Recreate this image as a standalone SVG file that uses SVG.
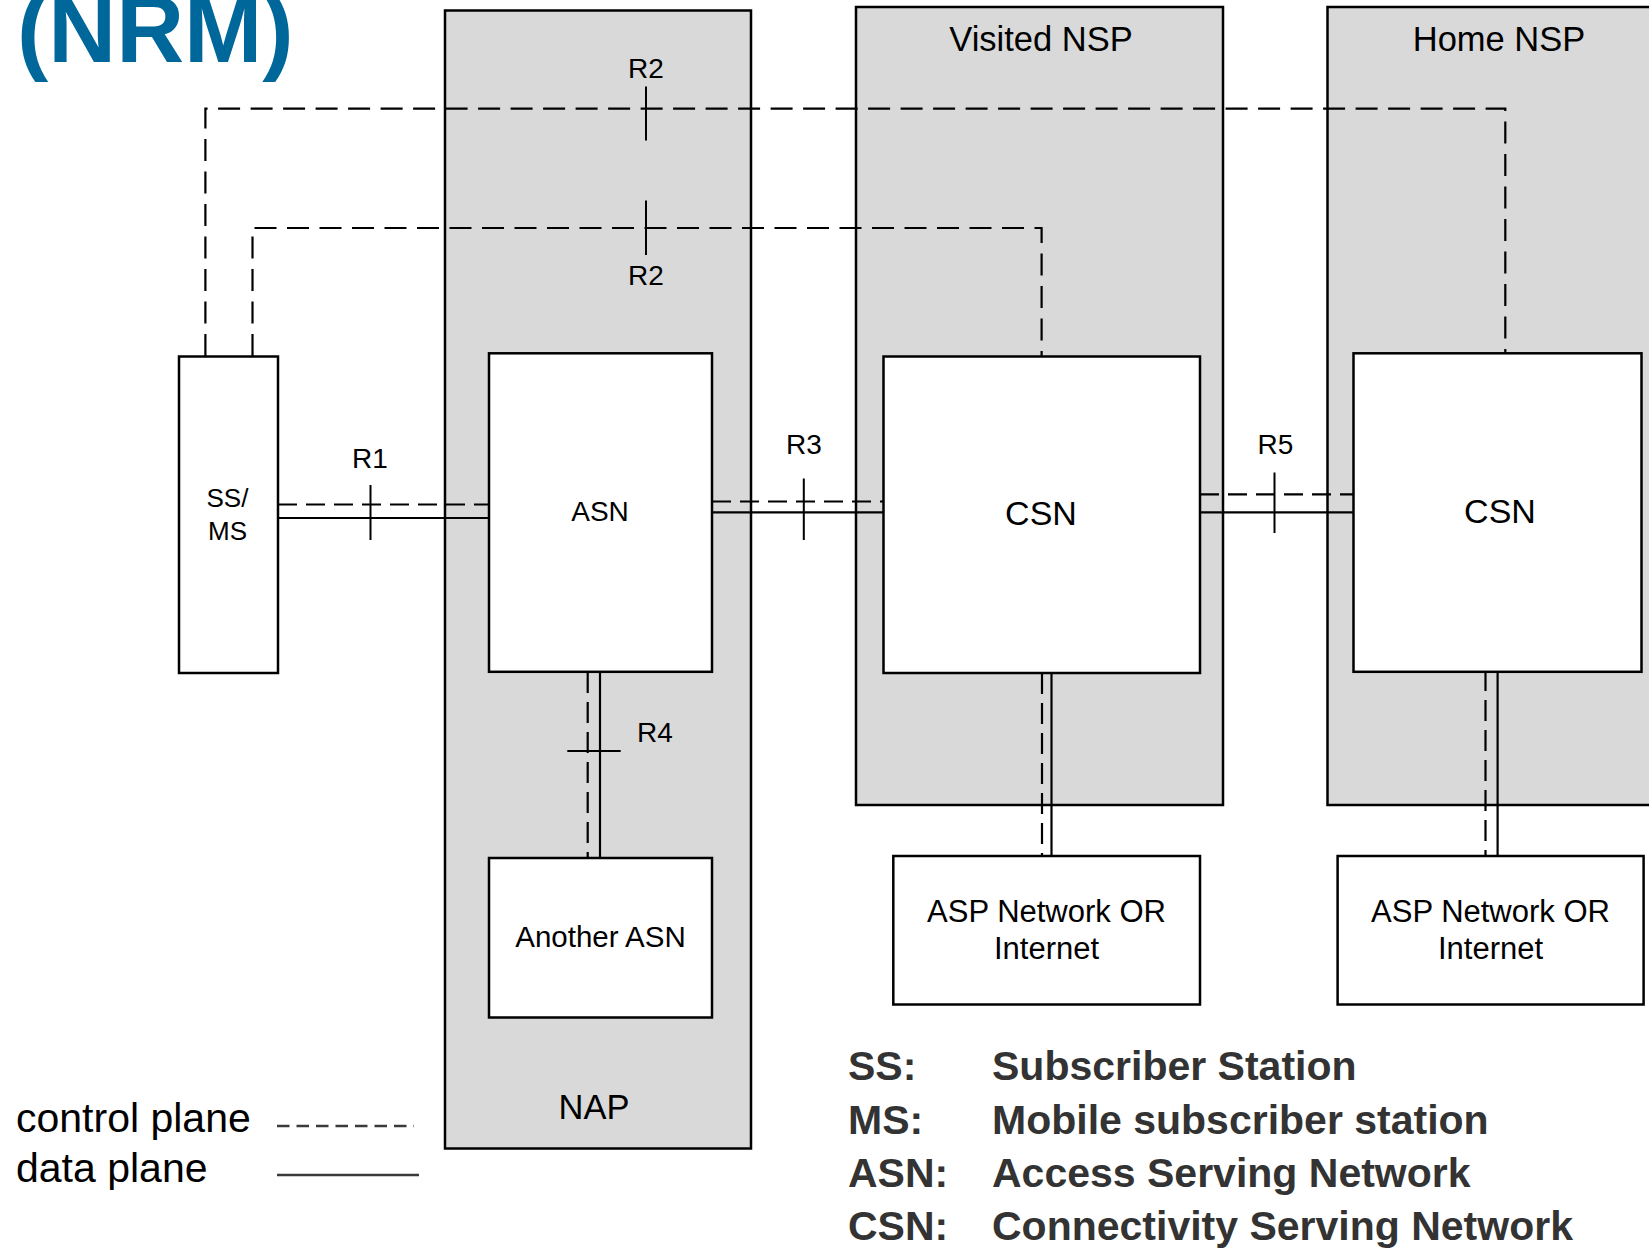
<svg xmlns="http://www.w3.org/2000/svg" width="1649" height="1249" viewBox="0 0 1649 1249">
<style>
  .zone { fill: #d9d9d9; stroke: #000; stroke-width: 2.5; }
  .box { fill: #fff; stroke: #000; stroke-width: 2.5; }
  .ctl { fill: none; stroke: #000; stroke-width: 2.2; stroke-dasharray: 22 10.5; }
  .dat { fill: none; stroke: #000; stroke-width: 2.2; }
  .tick { fill: none; stroke: #000; stroke-width: 2; }
  text { font-family: "Liberation Sans", Arial, sans-serif; fill: #000; }
  .c { text-anchor: middle; }
  .r { font-size: 28px; }
  .leg { font-size: 41px; font-weight: bold; fill: #333; }
</style>
<rect width="1649" height="1249" fill="#fff"/>
<text x="17" y="62" style="font-size:94px;font-weight:bold;fill:#00679b">(NRM)</text>

<g id="nap">
  <rect class="zone" x="445" y="10.5" width="306" height="1138"/>
  <text class="c" x="594" y="1119" style="font-size:34.5px">NAP</text>
</g>
<g id="visited-nsp">
  <rect class="zone" x="856" y="7" width="367" height="798"/>
  <text class="c" x="1041" y="50.5" style="font-size:34.5px">Visited NSP</text>
</g>
<g id="home-nsp">
  <rect class="zone" x="1327.5" y="7" width="340" height="798"/>
  <text class="c" x="1499" y="50.5" style="font-size:34.5px">Home NSP</text>
</g>

<g id="connectors">
  <path class="ctl" d="M205.4 356 V108.7 H1505.3 V353"/>
  <path class="ctl" d="M252.5 356 V228 H1041.6 V356"/>
  <path class="tick" d="M646 86.5 V140.5 M646 200.5 V255"/>
  <path class="ctl" style="stroke-dasharray:19 9" d="M278 504.5 H489"/>
  <path class="dat" d="M278 518 H489"/>
  <path class="tick" d="M370.5 485 V540"/>
  <path class="ctl" style="stroke-dasharray:19 9" d="M712 501.5 H883.5"/>
  <path class="dat" d="M712 512.3 H883.5"/>
  <path class="tick" d="M803.8 478.5 V540"/>
  <path class="ctl" style="stroke-dasharray:19 9" d="M1200 494.3 H1353.5"/>
  <path class="dat" d="M1200 512.3 H1353.5"/>
  <path class="tick" d="M1274.5 472.5 V533"/>
  <path class="ctl" style="stroke-dasharray:21 9" d="M587.7 672 V858"/>
  <path class="dat" d="M600 672 V858"/>
  <path class="tick" d="M567.3 751 H620.7"/>
  <path class="ctl" style="stroke-dasharray:21 9" d="M1042 673 V856"/>
  <path class="dat" d="M1051.5 673 V856"/>
  <path class="ctl" style="stroke-dasharray:21 9" d="M1485.5 670 V856"/>
  <path class="dat" d="M1497.6 672 V856"/>
</g>

<g id="labels">
  <text class="c r" x="646" y="77.5">R2</text>
  <text class="c r" x="646" y="285">R2</text>
  <text class="c r" x="370" y="468">R1</text>
  <text class="c r" x="804" y="454">R3</text>
  <text class="c r" x="1275.5" y="454">R5</text>
  <text class="c r" x="655" y="742">R4</text>
</g>

<g id="ss-ms">
  <rect class="box" x="179" y="356.5" width="99" height="316.5"/>
  <text class="c" x="227.5" y="506.7" style="font-size:26px">SS/</text>
  <text class="c" x="227.5" y="539.5" style="font-size:26px">MS</text>
</g>
<g id="asn">
  <rect class="box" x="489" y="353.3" width="223" height="318.5"/>
  <text class="c" x="600" y="520.5" style="font-size:28px">ASN</text>
</g>
<g id="csn-visited">
  <rect class="box" x="883.5" y="356.5" width="316.5" height="316.5"/>
  <text class="c" x="1041" y="525" style="font-size:34px">CSN</text>
</g>
<g id="csn-home">
  <rect class="box" x="1353.5" y="353.3" width="288" height="318.5"/>
  <text class="c" x="1500" y="522.5" style="font-size:34px">CSN</text>
</g>
<g id="another-asn">
  <rect class="box" x="489" y="858" width="223" height="159.5"/>
  <text class="c" x="600.5" y="947" style="font-size:29.5px">Another ASN</text>
</g>
<g id="asp-visited">
  <rect class="box" x="893.3" y="856" width="306.7" height="148.5"/>
  <text class="c" x="1046.5" y="922" style="font-size:31px">ASP Network OR</text>
  <text class="c" x="1046.5" y="958.5" style="font-size:31px">Internet</text>
</g>
<g id="asp-home">
  <rect class="box" x="1337.6" y="856" width="306" height="148.5"/>
  <text class="c" x="1490.5" y="922" style="font-size:31px">ASP Network OR</text>
  <text class="c" x="1490.5" y="958.5" style="font-size:31px">Internet</text>
</g>

<g id="legend">
  <text x="16" y="1131.5" style="font-size:41px">control plane</text>
  <text x="16" y="1181.5" style="font-size:41px">data plane</text>
  <path d="M277 1126 H414" fill="none" stroke="#3a3a3a" stroke-width="2.7" stroke-dasharray="12.5 7"/>
  <path d="M277 1175 H419" fill="none" stroke="#3a3a3a" stroke-width="2.7"/>
  <text class="leg" x="848" y="1080">SS:</text>
  <text class="leg" x="992" y="1080">Subscriber Station</text>
  <text class="leg" x="848" y="1133.5">MS:</text>
  <text class="leg" x="992" y="1133.5">Mobile subscriber station</text>
  <text class="leg" x="848" y="1187">ASN:</text>
  <text class="leg" x="992" y="1187">Access Serving Network</text>
  <text class="leg" x="848" y="1240">CSN:</text>
  <text class="leg" x="992" y="1240">Connectivity Serving Network</text>
</g>
</svg>
